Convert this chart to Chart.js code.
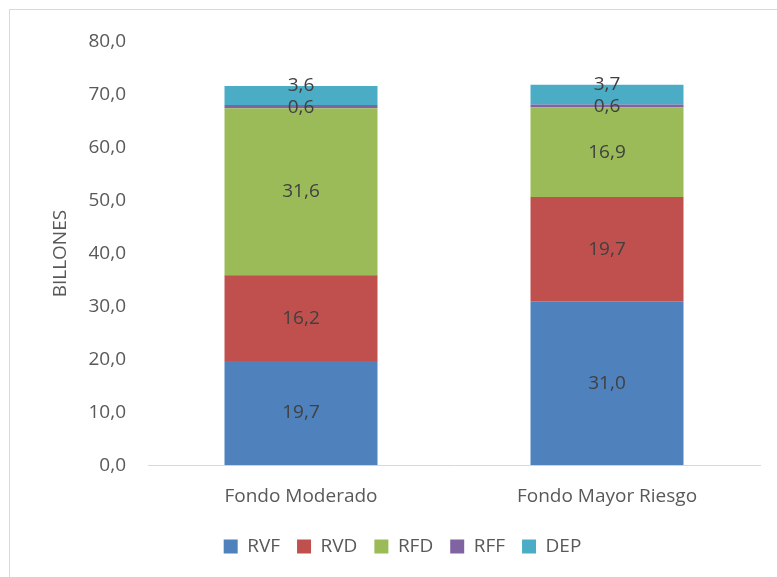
<!DOCTYPE html>
<html>
<head>
<meta charset="utf-8">
<script src="https://cdn.jsdelivr.net/npm/chart.js@4/dist/chart.umd.min.js"></script>
<style>
  body { margin: 0; background: #fff; }
  #marco { position: absolute; left: 9px; top: 9px; width: 800px; height: 600px; border: 1px solid #d9d9d9; }
  #lienzo { position: absolute; left: 0; top: 0; }
</style>
</head>
<body>
<div id="marco"></div>
<canvas id="lienzo" width="777" height="577" style="width:777px;height:577px;"></canvas>
<script>
var fondos = ["Fondo Moderado", "Fondo Mayor Riesgo"];
var rvf = [19.7, 31.0];
var rvd = [16.2, 19.7];
var rfd = [31.6, 16.9];
var rff = [0.6, 0.6];
var dep = [3.6, 3.7];
var ticksY = [0, 10, 20, 30, 40, 50, 60, 70, 80];

var fuente = "'Open Sans', 'DejaVu Sans', sans-serif";

function coma(v) {
    return v.toFixed(1).replace(".", ",");
}

var etiquetas = {
    id: "etiquetas",
    afterDatasetsDraw: function (chart) {
        var ctx = chart.ctx;
        ctx.save();
        ctx.font = "19px " + fuente;
        ctx.fillStyle = "#404040";
        ctx.textAlign = "center";
        ctx.textBaseline = "middle";
        chart.data.datasets.forEach(function (ds, i) {
            var meta = chart.getDatasetMeta(i);
            meta.data.forEach(function (bar, j) {
                var y = (bar.y + bar.base) / 2;
                if (ds.label === "DEP") y -= 10;
                if (ds.label === "RFF") y += 1;
                ctx.fillText(coma(ds.data[j]), bar.x, y);
            });
        });
        ctx.restore();
    }
};

var ctx = document.getElementById('lienzo').getContext('2d');

var grafico = new Chart(ctx, {
    type: 'bar',
    data: {
        labels: fondos,
        datasets: [
            { label: "RVF", data: rvf, backgroundColor: "#4f81bd" },
            { label: "RVD", data: rvd, backgroundColor: "#c0504d" },
            { label: "RFD", data: rfd, backgroundColor: "#9bbb59" },
            { label: "RFF", data: rff, backgroundColor: "#8064a2" },
            { label: "DEP", data: dep, backgroundColor: "#4bacc6" }
        ]
    },
    options: {
        responsive: false,
        animation: false,
        layout: { padding: { left: 45, right: 17, top: 42, bottom: 11 } },
        datasets: {
            bar: {
                categoryPercentage: 1,
                barPercentage: 0.5,
                borderWidth: 0
            }
        },
        plugins: {
            legend: {
                position: "bottom",
                labels: {
                    boxWidth: 14,
                    boxHeight: 14,
                    padding: 17,
                    color: "#595959",
                    font: { family: fuente, size: 19 }
                }
            },
            tooltip: { enabled: false }
        },
        scales: {
            x: {
                stacked: true,
                grid: { display: false },
                border: { display: true, color: "#d9d9d9", width: 1 },
                ticks: {
                    color: "#595959",
                    padding: 12,
                    font: { family: fuente, size: 19 }
                }
            },
            y: {
                stacked: true,
                min: 0,
                max: 80,
                afterBuildTicks: function (scale) {
                    scale.ticks = ticksY.map(function (v) { return { value: v }; });
                },
                afterFit: function (scale) { scale.width = 103; },
                grid: { display: false },
                border: { display: false },
                title: {
                    display: true,
                    text: "BILLONES",
                    color: "#595959",
                    font: { family: fuente, size: 19 }
                },
                ticks: {
                    color: "#595959",
                    padding: 14,
                    font: { family: fuente, size: 19 },
                    callback: function (v) { return coma(v); }
                }
            }
        }
    },
    plugins: [etiquetas]
});
</script>
</body>
</html>
